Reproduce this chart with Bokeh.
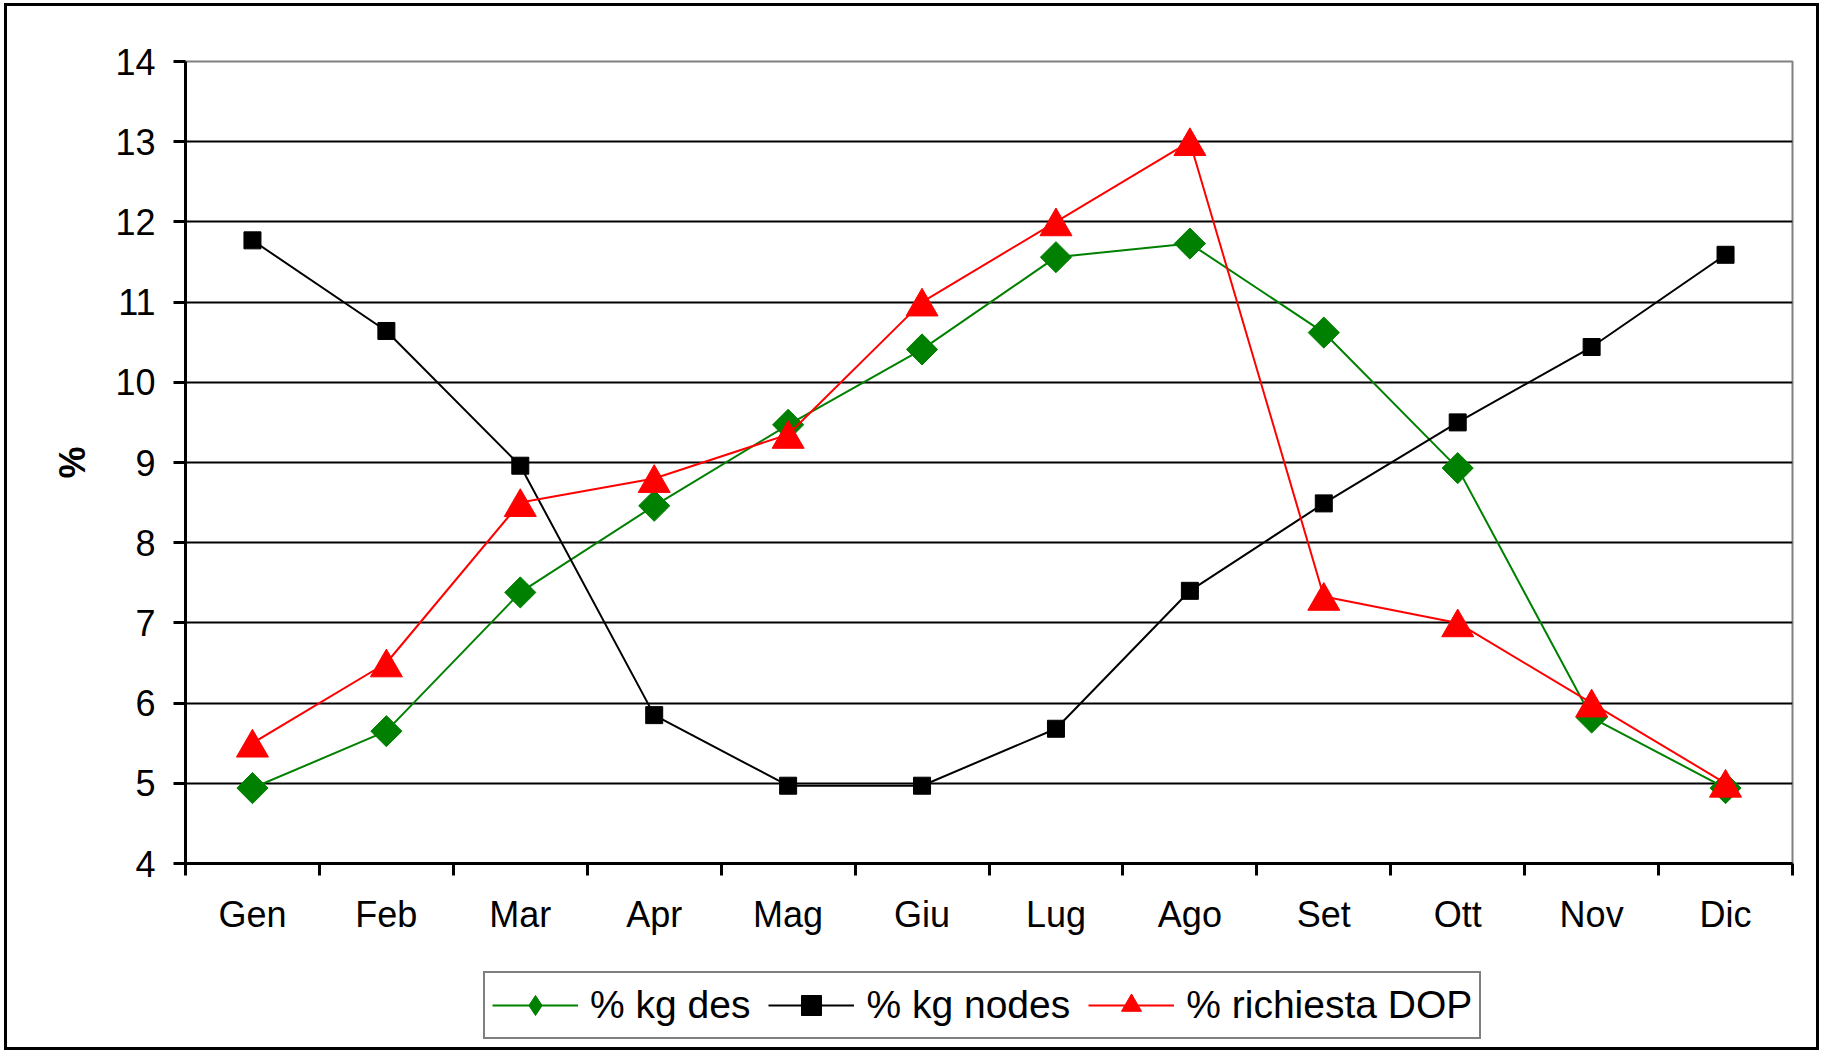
import math
from bokeh.plotting import figure
from bokeh.layouts import column
from bokeh.models import Range1d, FixedTicker, Legend, LegendItem
from bokeh.embed import file_html
from bokeh.resources import INLINE

# ---- data ----
months = ["Gen", "Feb", "Mar", "Apr", "Mag", "Giu", "Lug", "Ago", "Set", "Ott", "Nov", "Dic"]
kg_des = [4.94, 5.65, 7.38, 8.46, 9.47, 10.41, 11.56, 11.73, 10.62, 8.93, 5.82, 4.94]
kg_nodes = [11.77, 10.64, 8.96, 5.85, 4.97, 4.97, 5.68, 7.40, 8.49, 9.50, 10.44, 11.59]
richiesta_dop = [5.5, 6.5, 8.5, 8.8, 9.35, 11.0, 12.0, 13.0, 7.33, 7.0, 6.0, 5.0]
y_ticks = [4, 5, 6, 7, 8, 9, 10, 11, 12, 13, 14]
series_labels = ["% kg des", "% kg nodes", "% richiesta DOP"]

FONT = "Liberation Sans"
GREEN, RED, BLACK = "#008000", "#FF0000", "#000000"
x = [i + 0.5 for i in range(len(months))]
boundaries = list(range(len(months) + 1))

W = 1815
H1, H2 = 953, 94

p = figure(width=W, height=H1,
           x_range=Range1d(0, len(months)), y_range=Range1d(y_ticks[0], y_ticks[-1]),
           output_backend="svg", toolbar_location=None,
           min_border_left=178, min_border_right=30, min_border_top=55, min_border_bottom=96)
p.styles = {"border-top": "3px solid black", "border-left": "3px solid black",
            "border-right": "3px solid black"}

p.background_fill_color = "white"
p.border_fill_color = "white"
p.outline_line_color = "#808080"
p.outline_line_width = 2

# x axis
xa = p.xaxis[0]
xa.ticker = FixedTicker(ticks=x, minor_ticks=boundaries)
xa.major_label_overrides = {xi: m for xi, m in zip(x, months)}
xa.major_tick_line_color = None
xa.minor_tick_out = 12
xa.minor_tick_in = 0
xa.minor_tick_line_width = 3
xa.minor_tick_line_color = "black"
xa.axis_line_width = 3
xa.axis_line_color = "black"
xa.major_label_text_font = FONT
xa.major_label_text_font_size = "36px"
xa.major_label_text_color = "black"
xa.major_label_standoff = 18

# y axis
ya = p.yaxis[0]
ya.ticker = FixedTicker(ticks=y_ticks)
ya.major_tick_out = 12
ya.major_tick_in = 0
ya.major_tick_line_width = 3
ya.minor_tick_line_color = None
ya.axis_line_width = 3
ya.axis_line_color = "black"
ya.major_label_text_font = FONT
ya.major_label_text_font_size = "36px"
ya.major_label_text_color = "black"
ya.major_label_standoff = 18
ya.axis_label = "%"
ya.axis_label_text_font = FONT
ya.axis_label_text_font_size = "36px"
ya.axis_label_text_font_style = "bold"
ya.axis_label_text_color = "black"
ya.axis_label_standoff = 19

# grid
p.xgrid.grid_line_color = None
p.ygrid.ticker = FixedTicker(ticks=y_ticks[1:-1])
p.ygrid.grid_line_color = "black"
p.ygrid.grid_line_width = 2

# shift triangle markers so their bounding box (not centroid) is centred on the value
tri_shift = 4.6 / 80.2
p.extra_y_ranges = {"tri": Range1d(y_ticks[0] + tri_shift, y_ticks[-1] + tri_shift)}

p.line(x, kg_des, line_color=GREEN, line_width=2)
p.scatter(x, kg_des, marker="square", angle=math.pi / 4, size=22,
          fill_color=GREEN, line_color=GREEN)
p.line(x, kg_nodes, line_color=BLACK, line_width=2)
p.scatter(x, kg_nodes, marker="square", size=17, fill_color=BLACK, line_color=BLACK)
p.line(x, richiesta_dop, line_color=RED, line_width=2)
p.scatter(x, richiesta_dop, marker="triangle", size=32, fill_color=RED,
          line_color=RED, y_range_name="tri")

# ---- legend strip (separate figure below the chart) ----
lg = figure(width=W, height=H2, x_range=Range1d(100, 101), y_range=Range1d(0, 1),
            output_backend="svg", toolbar_location=None,
            x_axis_location=None, y_axis_location=None,
            min_border_left=0, min_border_right=0, min_border_top=0, min_border_bottom=0)
lg.styles = {"border-bottom": "3px solid black", "border-left": "3px solid black",
             "border-right": "3px solid black"}
lg.grid.visible = False
lg.outline_line_color = None
lg.background_fill_color = "white"
lg.border_fill_color = "white"

# legend glyphs reuse the series (they lie outside this strip's range, so only the legend shows)
lg_g = [lg.line(x, kg_des, line_color=GREEN, line_width=2),
        lg.scatter(x, kg_des, marker="diamond", size=26, fill_color=GREEN, line_color=GREEN)]
lg_k = [lg.line(x, kg_nodes, line_color=BLACK, line_width=2),
        lg.scatter(x, kg_nodes, marker="square", size=16, fill_color=BLACK, line_color=BLACK)]
lg_r = [lg.line(x, richiesta_dop, line_color=RED, line_width=2),
        lg.scatter(x, richiesta_dop, marker="triangle", size=27, fill_color=RED, line_color=RED)]

legend = Legend(items=[
    LegendItem(label=series_labels[0], renderers=lg_g),
    LegendItem(label=series_labels[1], renderers=lg_k),
    LegendItem(label=series_labels[2], renderers=lg_r),
], location=(298, 11), orientation="horizontal")
legend.label_text_font = FONT
legend.label_text_font_size = "39px"
legend.label_text_color = "black"
legend.glyph_width = 86
legend.glyph_height = 50
legend.label_standoff = 12
legend.spacing = 18
legend.padding = 7
legend.margin = 0
legend.border_line_color = "black"
legend.border_line_width = 2
legend.background_fill_color = "white"
legend.background_fill_alpha = 1
lg.add_layout(legend)

layout = column(p, lg, spacing=0)
layout.styles = {"margin-left": "4px", "margin-top": "3px"}

open("out.html", "w").write(file_html(layout, INLINE))
